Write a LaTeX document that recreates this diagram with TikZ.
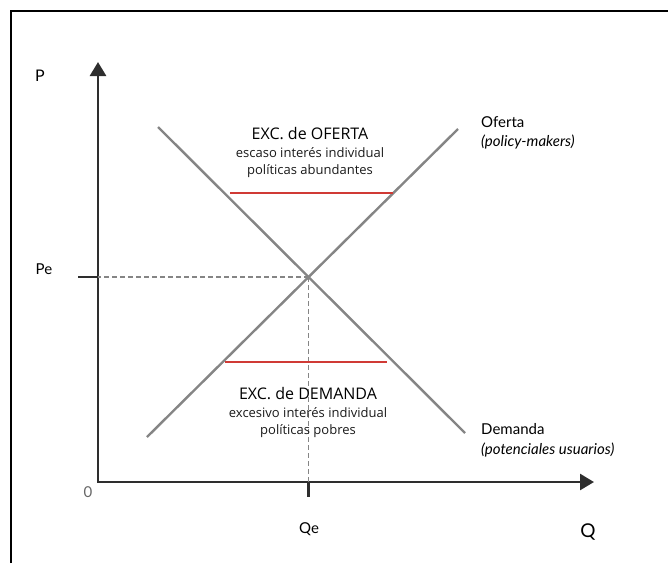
\documentclass[tikz,border=0pt]{standalone}
\usepackage{fontspec}
\setmainfont{Lato}
\newfontfamily\opensans{Open Sans}
\usetikzlibrary{arrows.meta,positioning}
\definecolor{axisgray}{HTML}{2E2E2E}
\definecolor{curvegray}{HTML}{858585}
\definecolor{gapred}{HTML}{D03A35}
\tikzset{
	axis/.style  = {draw=axisgray, line width=2.6pt},
	curve/.style = {draw=curvegray, line width=2.4pt},
	guide/.style = {draw=curvegray, line width=1.7pt, dash pattern=on 5pt off 3pt},
	gap/.style   = {draw=gapred, line width=2.2pt},
	lbl/.style   = {font=\fontsize{15}{18}\selectfont, text=black, inner sep=0pt},
	title/.style = {font=\opensans\fontsize{16}{19}\selectfont, text=black,
		inner sep=0pt, text height=12pt, text depth=3.5pt},
	note/.style  = {font=\opensans\fontsize{13}{16}\selectfont, text=black!90,
		inner sep=0pt, text height=10pt, text depth=3pt}
}

\begin{document}
\begin{tikzpicture}
[
x = 1pt, y = -1pt,
every node/.style = {lbl}
]
\useasboundingbox (0,0) rectangle (668,563);
% frame
\draw[black, line width=2.5pt] (11,563) -- (11,11) -- (668,11);
% axes
\coordinate (O) at (98,482);
\coordinate (ytop) at (98,62);
\coordinate (xend) at (594,482);
\draw[axis, {Triangle[length=14pt,width=16pt]}-{Triangle[length=14pt,width=16pt]}]
	(ytop) -- (O) -- (xend);
% curves
\coordinate (s1) at (147,437);
\coordinate (s2) at (458,129);
\coordinate (d1) at (158,127);
\coordinate (d2) at (465,433);
\coordinate (eq) at (intersection of s1--s2 and d1--d2);
\draw[guide] (eq) -- (eq -| O);
\draw[guide] (eq) -- (eq |- O);
\draw[axis] (eq -| O) -- ++(-20,0);
\draw[axis] (eq |- O) -- ++(0,15);
\draw[curve] (s1) -- (s2);
\draw[curve] (d1) -- (d2);
% excess bars
\draw[gap] (230,193) -- (393,193);
\draw[gap] (225,362) -- (387,362);
% axis labels
\node[font=\fontsize{16}{19}\selectfont] (plbl) at (40,76) {P};
\node (pelbl) at (44,269) {Pe};
\node (qelbl) at (309,529) {Qe};
\node[font=\fontsize{19}{22}\selectfont] (qlbl) at (588,532) {Q};
\node[text=black!60] (zero) at (88,492) {0};
% curve labels
\node[anchor=base west] (oferta) at (481,127) {Oferta};
\node[anchor=base west] (policy) at (481,146) {\itshape(policy-makers)};
\node[anchor=base west] (demanda) at (481,434) {Demanda};
\node[anchor=base west] (usuarios) at (481,454) {\itshape(potenciales usuarios)};
% excess texts
\node[title, anchor=base] (excof) at (310,139) {EXC. de OFERTA};
\node[note, below=4.5pt of excof] (escaso) {escaso interés individual};
\node[note, below=4pt of escaso] (abund) {políticas abundantes};
\node[title, anchor=base] (excdem) at (308,399) {EXC. de DEMANDA};
\node[note, below=4.5pt of excdem] (excesivo) {excesivo interés individual};
\node[note, below=3.5pt of excesivo] (pobres) {políticas pobres};
\end{tikzpicture}
\end{document}
